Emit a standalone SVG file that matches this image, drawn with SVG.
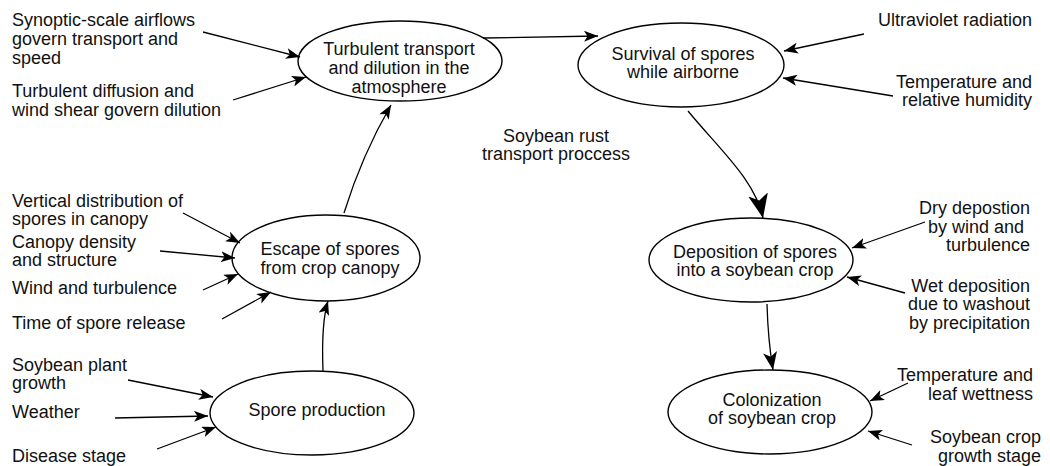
<svg xmlns="http://www.w3.org/2000/svg" width="1050" height="466" viewBox="0 0 1050 466">
<style>
text{font-family:"Liberation Sans",Arial,sans-serif;font-size:18px;fill:#111}
.m{text-anchor:middle}
.e{text-anchor:end}
.node ellipse{fill:#fff;stroke:#000;stroke-width:1.4}
.c path{fill:none;stroke:#000;stroke-width:1.3}
</style>
<defs>
<marker id="ah" viewBox="0 0 14 11" refX="14" refY="5.5" markerWidth="14" markerHeight="11" markerUnits="userSpaceOnUse" orient="auto"><path d="M0,0 L14,5.5 L0,11 L3.5,5.5 z" fill="#000"/></marker>
<marker id="ahM" viewBox="0 0 18 14" refX="18" refY="7" markerWidth="18" markerHeight="14" markerUnits="userSpaceOnUse" orient="auto"><path d="M0,0 L18,7 L0,14 L4.5,7 z" fill="#000"/></marker>
<marker id="ahL" viewBox="0 0 24 20" refX="24" refY="10" markerWidth="24" markerHeight="20" markerUnits="userSpaceOnUse" orient="auto"><path d="M0,0 L24,10 L0,20 L6,10 z" fill="#000"/></marker>
</defs>
<g id="n-turbulent" class="node">
<ellipse cx="400" cy="61" rx="102" ry="40"/>
<text class="m" x="399" y="55">Turbulent transport</text>
<text class="m" x="399" y="74">and dilution in the</text>
<text class="m" x="399" y="93">atmosphere</text>
</g>
<g id="n-survival" class="node">
<ellipse cx="681" cy="65" rx="103" ry="42"/>
<text class="m" x="683" y="60">Survival of spores</text>
<text class="m" x="683" y="78">while airborne</text>
</g>
<g id="n-escape" class="node">
<ellipse cx="326" cy="258" rx="94" ry="43"/>
<text class="m" x="330" y="255">Escape of spores</text>
<text class="m" x="330" y="274">from crop canopy</text>
</g>
<g id="n-spore" class="node">
<ellipse cx="312" cy="413" rx="102" ry="42"/>
<text class="m" x="317" y="416">Spore production</text>
</g>
<g id="n-deposition" class="node">
<ellipse cx="751" cy="260" rx="102" ry="42"/>
<text class="m" x="755" y="258">Deposition of spores</text>
<text class="m" x="755" y="276">into a soybean crop</text>
</g>
<g id="n-colonization" class="node">
<ellipse cx="770" cy="412" rx="102" ry="42"/>
<text class="m" x="772" y="406">Colonization</text>
<text class="m" x="772" y="424">of soybean crop</text>
</g>
<g id="labels">
<text x="12" y="26">Synoptic-scale airflows</text>
<text x="12" y="45">govern transport and</text>
<text x="12" y="64">speed</text>
<text x="12" y="97">Turbulent diffusion and</text>
<text x="12" y="116">wind shear govern dilution</text>
<text x="12" y="207">Vertical distribution of</text>
<text x="12" y="225">spores in canopy</text>
<text x="12" y="248">Canopy density</text>
<text x="12" y="266">and structure</text>
<text x="12" y="294">Wind and turbulence</text>
<text x="12" y="329">Time of spore release</text>
<text x="12" y="371">Soybean plant</text>
<text x="12" y="389">growth</text>
<text x="12" y="418">Weather</text>
<text x="12" y="462">Disease stage</text>
<text class="e" x="1032" y="26">Ultraviolet radiation</text>
<text class="e" x="1032" y="88">Temperature and</text>
<text class="e" x="1032" y="106">relative humidity</text>
<text class="e" x="1030" y="214">Dry depostion</text>
<text class="e" x="1024" y="233">by wind and</text>
<text class="e" x="1030" y="251">turbulence</text>
<text class="e" x="1030" y="292">Wet deposition</text>
<text class="e" x="1030" y="310">due to washout</text>
<text class="e" x="1030" y="329">by precipitation</text>
<text class="e" x="1033" y="381">Temperature and</text>
<text class="e" x="1033" y="400">leaf wettness</text>
<text class="e" x="1041" y="443">Soybean crop</text>
<text class="e" x="1041" y="462">growth stage</text>
<text class="m" x="556" y="142">Soybean rust</text>
<text class="m" x="556" y="160">transport proccess</text>
</g>
<g id="connectors" class="c">
<path d="M203,32 L300,57" marker-end="url(#ah)"/>
<path d="M233,100 L306,77" marker-end="url(#ah)"/>
<path d="M483,38 L598,36" marker-end="url(#ah)"/>
<path d="M864,34 L784,51" marker-end="url(#ah)"/>
<path d="M893,96 L783,78" marker-end="url(#ah)"/>
<path d="M688,111 C720,150 755,180 763,218" marker-end="url(#ahL)"/>
<path d="M925,222 L852,248" marker-end="url(#ah)"/>
<path d="M905,293 L847,277" marker-end="url(#ah)"/>
<path d="M767,304 Q768,340 773,370" marker-end="url(#ahM)"/>
<path d="M908,383 L870,401" marker-end="url(#ah)"/>
<path d="M912,445 L868,431" marker-end="url(#ah)"/>
<path d="M344,213 Q362,155 391,105" marker-end="url(#ah)"/>
<path d="M183,213 L240,243" marker-end="url(#ah)"/>
<path d="M160,251 L235,258" marker-end="url(#ah)"/>
<path d="M203,290 L238,274" marker-end="url(#ah)"/>
<path d="M222,319 L271,292" marker-end="url(#ah)"/>
<path d="M323,371 C322,345 322,320 328,301" marker-end="url(#ah)"/>
<path d="M128,380 L213,397" marker-end="url(#ah)"/>
<path d="M115,418 L208,416" marker-end="url(#ah)"/>
<path d="M157,449 L216,427" marker-end="url(#ah)"/>
</g>
</svg>
